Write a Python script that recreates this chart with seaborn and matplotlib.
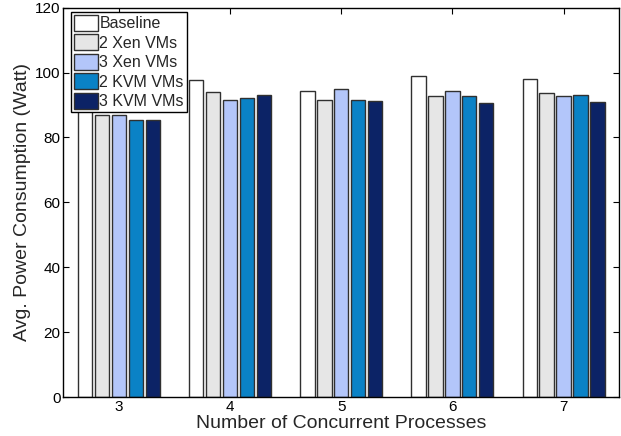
import matplotlib
matplotlib.use("Agg")
import matplotlib.pyplot as plt
import seaborn as sns
import pandas as pd

# Average power draw per configuration and number of concurrent processes
processes = ["3", "4", "5", "6", "7"]
configs = ["Baseline", "2 Xen VMs", "3 Xen VMs", "2 KVM VMs", "3 KVM VMs"]
baseline = [89.5, 97.8, 94.4, 98.8, 97.9]
xen2 = [86.9, 93.9, 91.5, 92.9, 93.7]
xen3 = [86.9, 91.6, 94.9, 94.2, 92.7]
kvm2 = [85.3, 92.1, 91.6, 92.7, 93.1]
kvm3 = [85.4, 93.1, 91.1, 90.5, 90.9]

colors = ["#ffffff", "#e6e6e6", "#b3c6fa", "#0a82c6", "#0c2366"]

rows = []
for name, vals in zip(configs, [baseline, xen2, xen3, kvm2, kvm3]):
    for p, v in zip(processes, vals):
        rows.append({"Processes": p, "Config": name, "Power": v})
df = pd.DataFrame(rows)

sns.set_theme(style="ticks")
plt.rcParams["font.family"] = ["Liberation Sans", "DejaVu Sans"]

fig = plt.figure(figsize=(6.21, 4.36), dpi=100)
ax = fig.add_axes([0.102, 0.0894, 0.895, 0.893])

sns.barplot(data=df, x="Processes", y="Power", hue="Config",
            order=processes, hue_order=configs, palette=colors,
            saturation=1, width=0.76, gap=0.15, edgecolor="#303030",
            linewidth=1.0, errorbar=None, ax=ax)

ax.set_xlim(-0.5, 4.5)
ax.set_ylim(0, 120)
ax.set_yticks([0, 20, 40, 60, 80, 100, 120])
ax.set_xlabel("Number of Concurrent Processes", fontsize=14, labelpad=1)
ax.set_ylabel("Avg. Power Consumption (Watt)", fontsize=14, labelpad=3)
ax.tick_params(direction="in", length=4, width=0.8, labelsize=11,
               top=True, right=True, colors="black", pad=2)
for s in ax.spines.values():
    s.set_visible(True)
    s.set_color("black")
    s.set_linewidth(1.0)

leg = ax.legend(loc="upper left", bbox_to_anchor=(0.013, 0.99),
                fontsize=11.5, frameon=True, fancybox=False,
                handlelength=1.5, handleheight=1.15, handletextpad=0.1,
                borderpad=0.2, labelspacing=0.2, borderaxespad=0.0)
leg.get_frame().set_edgecolor("black")
leg.get_frame().set_linewidth(1.0)
leg.get_frame().set_alpha(1)

fig.savefig("out.png", dpi=100)
